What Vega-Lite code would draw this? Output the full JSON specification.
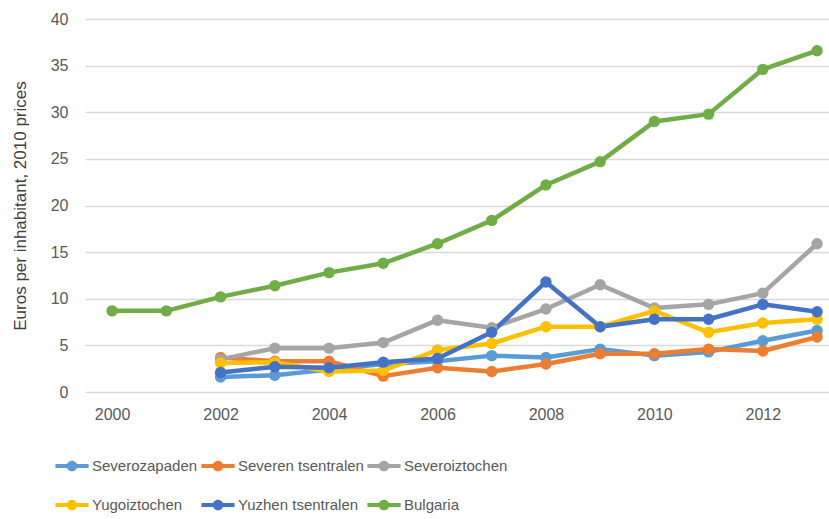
{
  "$schema": "https://vega.github.io/schema/vega-lite/v6.json",
  "width": 744,
  "height": 373,
  "autosize": {"type": "none"},
  "padding": {"left": 85, "top": 19, "right": 0, "bottom": 127},
  "background": "white",
  "config": {
    "view": {"stroke": null},
    "font": "Liberation Sans"
  },
  "data": {
    "values": [
      {"year": 2000, "Bulgaria": 8.7},
      {"year": 2001, "Bulgaria": 8.7},
      {"year": 2002, "Severozapaden": 1.6, "Severen tsentralen": 3.7, "Severoiztochen": 3.5, "Yugoiztochen": 3.1, "Yuzhen tsentralen": 2.1, "Bulgaria": 10.2},
      {"year": 2003, "Severozapaden": 1.8, "Severen tsentralen": 3.3, "Severoiztochen": 4.7, "Yugoiztochen": 3.2, "Yuzhen tsentralen": 2.7, "Bulgaria": 11.4},
      {"year": 2004, "Severozapaden": 2.4, "Severen tsentralen": 3.3, "Severoiztochen": 4.7, "Yugoiztochen": 2.2, "Yuzhen tsentralen": 2.6, "Bulgaria": 12.8},
      {"year": 2005, "Severozapaden": 3.0, "Severen tsentralen": 1.7, "Severoiztochen": 5.3, "Yugoiztochen": 2.3, "Yuzhen tsentralen": 3.2, "Bulgaria": 13.8},
      {"year": 2006, "Severozapaden": 3.3, "Severen tsentralen": 2.6, "Severoiztochen": 7.7, "Yugoiztochen": 4.5, "Yuzhen tsentralen": 3.6, "Bulgaria": 15.9},
      {"year": 2007, "Severozapaden": 3.9, "Severen tsentralen": 2.2, "Severoiztochen": 6.9, "Yugoiztochen": 5.2, "Yuzhen tsentralen": 6.4, "Bulgaria": 18.4},
      {"year": 2008, "Severozapaden": 3.7, "Severen tsentralen": 3.0, "Severoiztochen": 8.9, "Yugoiztochen": 7.0, "Yuzhen tsentralen": 11.8, "Bulgaria": 22.2},
      {"year": 2009, "Severozapaden": 4.6, "Severen tsentralen": 4.1, "Severoiztochen": 11.5, "Yugoiztochen": 7.0, "Yuzhen tsentralen": 7.0, "Bulgaria": 24.7},
      {"year": 2010, "Severozapaden": 3.9, "Severen tsentralen": 4.1, "Severoiztochen": 9.0, "Yugoiztochen": 8.7, "Yuzhen tsentralen": 7.8, "Bulgaria": 29.0},
      {"year": 2011, "Severozapaden": 4.3, "Severen tsentralen": 4.6, "Severoiztochen": 9.4, "Yugoiztochen": 6.4, "Yuzhen tsentralen": 7.8, "Bulgaria": 29.8},
      {"year": 2012, "Severozapaden": 5.5, "Severen tsentralen": 4.4, "Severoiztochen": 10.6, "Yugoiztochen": 7.4, "Yuzhen tsentralen": 9.4, "Bulgaria": 34.6},
      {"year": 2013, "Severozapaden": 6.6, "Severen tsentralen": 5.9, "Severoiztochen": 15.9, "Yugoiztochen": 7.8, "Yuzhen tsentralen": 8.6, "Bulgaria": 36.6}
    ]
  },
  "transform": [
    {"fold": ["Severozapaden", "Severen tsentralen", "Severoiztochen", "Yugoiztochen", "Yuzhen tsentralen", "Bulgaria"], "as": ["region", "value"]},
    {"filter": "isValid(datum.value)"}
  ],
  "mark": {"type": "line", "strokeWidth": 4.5, "strokeJoin": "round", "point": {"filled": true, "size": 130, "opacity": 1}},
  "encoding": {
    "x": {
      "field": "year", "type": "quantitative",
      "scale": {"domain": [1999.5, 2013.22], "nice": false, "zero": false},
      "axis": {
        "values": [2000, 2002, 2004, 2006, 2008, 2010, 2012],
        "format": "d", "grid": false, "ticks": false, "domain": false,
        "labelFontSize": 16, "labelColor": "#595959", "labelPadding": 14, "title": null
      }
    },
    "y": {
      "field": "value", "type": "quantitative",
      "scale": {"domain": [0, 40], "nice": false},
      "axis": {
        "values": [0, 5, 10, 15, 20, 25, 30, 35, 40],
        "grid": true, "gridColor": "#d9d9d9", "gridWidth": 1.5,
        "ticks": false, "domain": false,
        "labelFontSize": 16, "labelColor": "#595959", "labelPadding": 17,
        "title": "Euros per inhabitant, 2010 prices",
        "titleFontSize": 17, "titleFontWeight": "normal", "titleColor": "#404040",
        "titlePadding": 21
      }
    },
    "color": {
      "field": "region", "type": "nominal",
      "scale": {
        "domain": ["Severozapaden", "Severen tsentralen", "Severoiztochen", "Yugoiztochen", "Yuzhen tsentralen", "Bulgaria"],
        "range": ["#5B9BD5", "#ED7D31", "#A5A5A5", "#FFC000", "#4472C4", "#70AD47"]
      },
      "legend": {
        "title": null,
        "orient": "none",
        "legendX": -30,
        "legendY": 430,
        "direction": "horizontal",
        "columns": 3,
        "columnPadding": 3,
        "rowPadding": 14,
        "labelFontSize": 15,
        "labelColor": "#595959",
        "labelLimit": 300,
        "labelOffset": 3,
        "symbolType": "M-1,-0.12 L1,-0.12 L1,0.12 L-1,0.12 Z M0.32,0 A0.32,0.32 0 1,1 -0.32,0 A0.32,0.32 0 1,1 0.32,0 Z",
        "symbolSize": 1100,
        "symbolStrokeWidth": 0,
        "symbolOpacity": 1
      }
    },
    "order": {"field": "year", "type": "quantitative"}
  }
}
